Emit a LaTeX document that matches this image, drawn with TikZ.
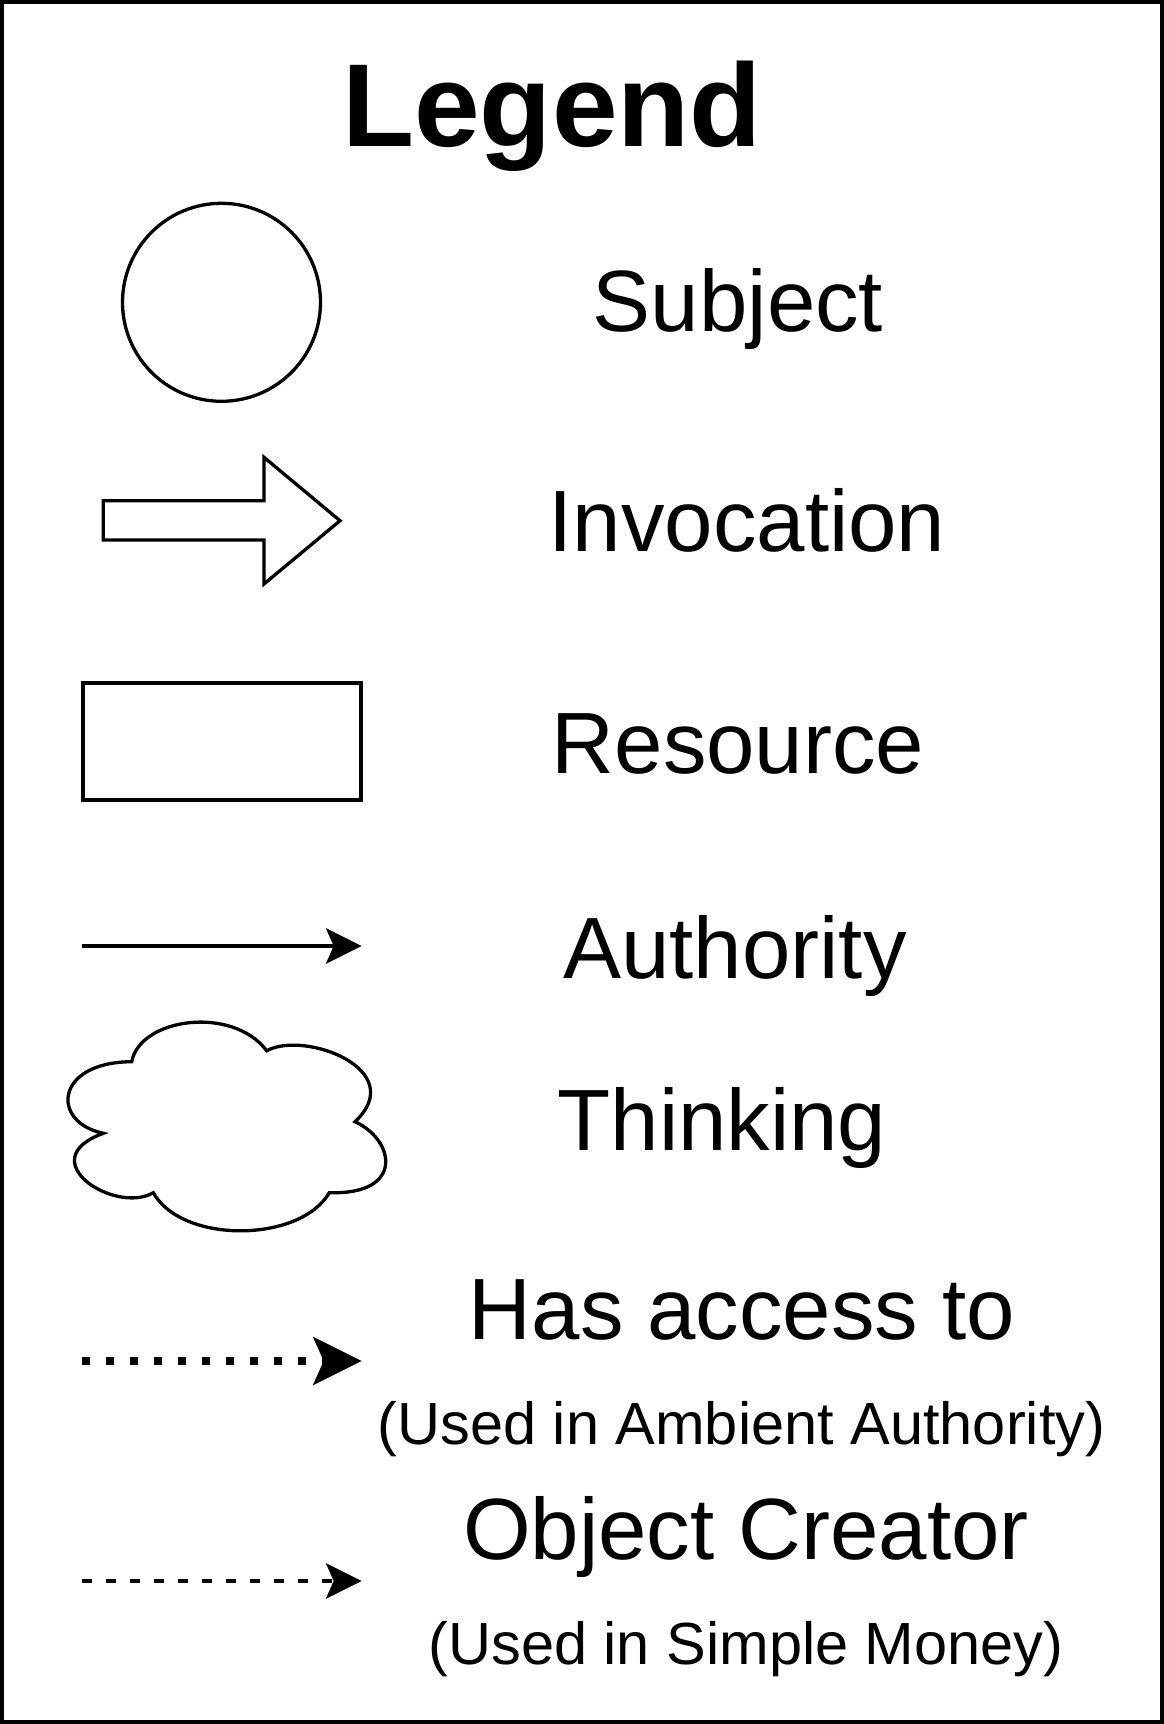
\documentclass[tikz,border=0pt]{standalone}
\usepackage{fontspec}
\setmainfont{Liberation Sans}
\usetikzlibrary{arrows.meta}
\begin{document}
\begin{tikzpicture}[x=1pt,y=-1pt,
  shapeline/.style={line width=3.3pt, draw=black, line join=miter},
  lbl/.style={anchor=base, inner sep=0pt, font=\fontsize{87}{100}\selectfont},
  sublbl/.style={anchor=base, inner sep=0pt, font=\fontsize{59.5}{70}\selectfont},
  ttl/.style={anchor=base, inner sep=0pt, font=\fontsize{118}{130}\selectfont\bfseries},
  smalltip/.style={-{Stealth[length=36pt,width=36pt,inset=8pt,line width=0pt]}},
  bigtip/.style={-{Stealth[length=49pt,width=49pt,inset=11pt,line width=0pt]}},
]
\useasboundingbox (0,0) rectangle (1164,1724);
\draw[line width=4pt] (2,2) rectangle (1162,1722);

% title
\node[ttl] (title) at (552,146) {Legend};

% subject
\node[circle, shapeline, minimum size=198pt, inner sep=0pt] (subj) at (221.5,302.3) {};
\node[lbl] (subjtxt) at (738,331) {Subject};

% invocation
\draw[shapeline] (103.3,500.7) -- (264,500.7) -- (264,457.3) -- (340,520.7)
  -- (264,584) -- (264,540) -- (103.3,540) -- cycle;
\node[lbl] (invtxt) at (747,551) {Invocation};

% resource
\node[rectangle, shapeline, minimum width=278pt, minimum height=117pt, inner sep=0pt] (res) at (222,741.5) {};
\node[lbl] (restxt) at (738,773) {Resource};

% authority
\coordinate (auA) at (82,946);
\coordinate (auB) at (361.7,946);
\draw[line width=4pt, smalltip] (auA) -- (auB);
\node[lbl] (authtxt) at (735,978) {Authority};

% thinking cloud
\draw[shapeline, line join=miter]
  (131.7,1061.7) .. controls (140,1018) and (232,1005) .. (266.7,1050.7)
  .. controls (305,1030) and (410,1070) .. (355,1121.7)
  .. controls (395,1140) and (405,1195) .. (329.3,1192.7)
  .. controls (300,1243) and (182,1244) .. (153.3,1192.7)
  .. controls (115,1215) and (30,1160) .. (103.3,1133.3)
  .. controls (50,1122) and (55,1062) .. cycle;
\node[lbl] (thinktxt) at (722,1150) {Thinking};

% has access to
\coordinate (haA) at (82,1361);
\coordinate (haB) at (361.7,1361);
\draw[line width=8pt, dash pattern=on 8pt off 16pt, bigtip] (haA) -- (haB);
\node[lbl] (hastxt) at (742,1339) {Has access to};
\node[sublbl] (hassub) at (741.5,1444) {(Used in Ambient Authority)};

% object creator
\coordinate (ocA) at (82,1581);
\coordinate (ocB) at (361.7,1581);
\draw[line width=4pt, dash pattern=on 10pt off 14pt, smalltip] (ocA) -- (ocB);
\node[lbl] (octxt) at (746,1559) {Object Creator};
\node[sublbl] (ocsub) at (746,1664) {(Used in Simple Money)};
\end{tikzpicture}
\end{document}
